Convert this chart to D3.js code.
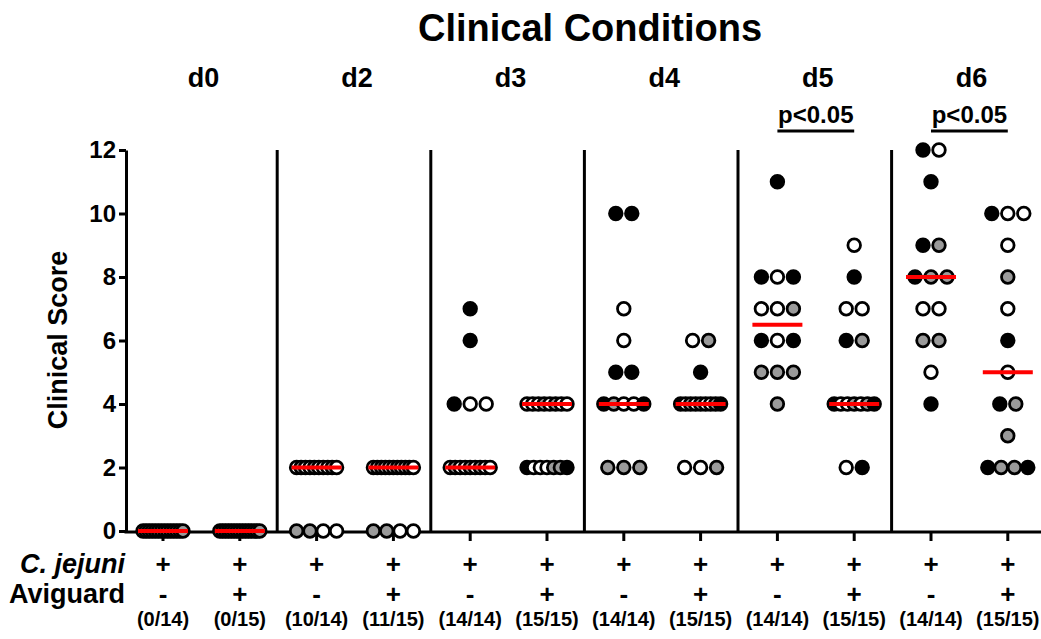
<!DOCTYPE html>
<html>
<head>
<meta charset="utf-8">
<script src="https://cdn.jsdelivr.net/npm/d3@7"></script>
<style>
body { margin: 0; background: #fff; }
svg { display: block; font-family: "Liberation Sans", Arial, sans-serif; font-weight: bold; }
</style>
</head>
<body>
<svg id="chart" width="1041" height="639"></svg>
<script>
// groups: each day has an Aviguard - and + group, all infected with C. jejuni
const days = ["d0", "d2", "d3", "d4", "d5", "d6"];
const jejuni = ["+", "+"];
const aviguard = ["-", "+"];
const y_ticks = [0, 2, 4, 6, 8, 10, 12];

// scores per group: [score, fills], one letter per bird (k black, w white, g gray)
const d0_minus = [[0, "wwwwgwwgwggwgg"]];
const d0_plus  = [[0, "wwwgwwgwwggwgwg"]];
const d2_minus = [[2, "wgwwgwwwgw"], [0, "ggww"]];
const d2_plus  = [[2, "wwgwwwgwwgw"], [0, "ggww"]];
const d3_minus = [[7, "k"], [6, "k"], [4, "kww"], [2, "wgwwgwgww"]];
const d3_plus  = [[4, "wwwgwgww"], [2, "kwwwggk"]];
const d4_minus = [[10, "kk"], [7, "w"], [6, "w"], [5, "kk"], [4, "kgwwk"], [2, "ggg"]];
const d4_plus  = [[6, "wg"], [5, "k"], [4, "kwgwgwwgk"], [2, "wwg"]];
const d5_minus = [[11, "k"], [8, "kwk"], [7, "wwg"], [6, "kwk"], [5, "ggg"], [4, "g"]];
const d5_plus  = [[9, "w"], [8, "k"], [7, "ww"], [6, "kg"], [4, "kwwgwgk"], [2, "wk"]];
const d6_minus = [[12, "kw"], [11, "k"], [9, "kg"], [8, "kgg"], [7, "ww"], [6, "gg"], [5, "w"], [4, "k"]];
const d6_plus  = [[10, "kww"], [9, "w"], [8, "g"], [7, "w"], [6, "k"], [5, "w"], [4, "kg"], [3, "g"], [2, "kggk"]];

const group_rows = [d0_minus, d0_plus, d2_minus, d2_plus, d3_minus, d3_plus,
                    d4_minus, d4_plus, d5_minus, d5_plus, d6_minus, d6_plus];
const significance = [["d5", "p<0.05"], ["d6", "p<0.05"]];

const fill_color = {k: "#000", w: "#fff", g: "#9a9a9a"};

// build groups
const groups = days.flatMap((day, i) => aviguard.map((a, j) => {
    const rows = group_rows[i * 2 + j];
    const points = rows.flatMap(([v, fills]) => {
        const n = fills.length;
        const s = n > 1 ? Math.min(16, 40 / (n - 1)) : 0;
        return fills.split("").map((f, k) => ({v, f, dx: (k - (n - 1) / 2) * s}));
    });
    return {id: day + a, day, jejuni: jejuni[j], aviguard: a, points};
}));

const svg = d3.select("#chart");

// scales
const x = d3.scaleBand()
    .domain(groups.map(g => g.id))
    .range([124.6, 1046.2]);
const xc = id => x(id) + x.bandwidth() / 2;

const y = d3.scaleLinear()
    .domain([0, 12])
    .range([531, 150]);

// title
svg.append("text")
    .attr("x", 590).attr("y", 41)
    .attr("text-anchor", "middle")
    .style("font-size", "38px")
    .text("Clinical Conditions");

// day labels
svg.append("g").selectAll("text")
    .data(days).enter()
    .append("text")
    .attr("x", d => (xc(d + "-") + xc(d + "+")) / 2 + 2)
    .attr("y", 87)
    .attr("text-anchor", "middle")
    .style("font-size", "27px")
    .text(d => d);

// separators between days
svg.append("g").selectAll("line")
    .data(days.slice(1)).enter()
    .append("line")
    .attr("x1", d => x(d + "-") - 1)
    .attr("x2", d => x(d + "-") - 1)
    .attr("y1", y(12))
    .attr("y2", y(0))
    .style("stroke", "#000")
    .style("stroke-width", 3);

// significance brackets
const sig = svg.append("g").selectAll("g")
    .data(significance).enter()
    .append("g");
sig.append("line")
    .attr("x1", d => xc(d[0] + "-"))
    .attr("x2", d => xc(d[0] + "+"))
    .attr("y1", 131).attr("y2", 131)
    .style("stroke", "#000")
    .style("stroke-width", 3);
sig.append("text")
    .attr("x", d => (xc(d[0] + "-") + xc(d[0] + "+")) / 2)
    .attr("y", 123)
    .attr("text-anchor", "middle")
    .style("font-size", "24px")
    .text(d => d[1]);

// axis_y
const axis_y = svg.append("g")
    .attr("transform", "translate(126,0)")
    .call(d3.axisLeft(y).tickValues(y_ticks).tickSize(7).tickSizeOuter(0).tickPadding(3));
axis_y.select(".domain").style("stroke-width", 3);
axis_y.selectAll(".tick line").style("stroke-width", 3);
axis_y.selectAll(".tick text")
    .style("font-size", "24px")
    .style("font-family", "Liberation Sans, Arial, sans-serif")
    .style("font-weight", "bold");

svg.append("text")
    .attr("transform", "translate(58,340) rotate(-90)")
    .attr("text-anchor", "middle")
    .attr("dominant-baseline", "central")
    .style("font-size", "27px")
    .text("Clinical Score");

// axis_x
const axis_x = svg.append("g")
    .attr("transform", "translate(0,532)")
    .call(d3.axisBottom(x).tickSize(9).tickFormat(""));
axis_x.select(".domain").remove();
axis_x.selectAll(".tick line").style("stroke-width", 3);
svg.append("line")
    .attr("x1", 124.5).attr("x2", 1041)
    .attr("y1", 532).attr("y2", 532)
    .style("stroke", "#000")
    .style("stroke-width", 3);

// points
svg.append("g").selectAll("g")
    .data(groups).enter()
    .append("g")
    .attr("transform", g => `translate(${xc(g.id)},0)`)
    .selectAll("circle")
    .data(g => g.points).enter()
    .append("circle")
    .attr("cx", d => d.dx)
    .attr("cy", d => y(d.v))
    .attr("r", 6.3)
    .style("fill", d => fill_color[d.f])
    .style("stroke", "#000")
    .style("stroke-width", 2.8);

// medians
svg.append("g").selectAll("line")
    .data(groups).enter()
    .append("line")
    .attr("x1", g => xc(g.id) - 25)
    .attr("x2", g => xc(g.id) + 25)
    .attr("y1", g => y(d3.median(g.points, p => p.v)))
    .attr("y2", g => y(d3.median(g.points, p => p.v)))
    .style("stroke", "#f00")
    .style("stroke-width", 4);

// condition rows under the axis
const rows = [["C. jejuni", "jejuni", 573, "italic"], ["Aviguard", "aviguard", 603, "normal"]];
rows.forEach(([label, key, yy, style]) => {
    svg.append("text")
        .attr("x", 125).attr("y", yy)
        .attr("text-anchor", "end")
        .style("font-size", "27px")
        .style("font-style", style)
        .text(label);
    svg.append("g").selectAll("text")
        .data(groups).enter()
        .append("text")
        .attr("x", g => xc(g.id))
        .attr("y", yy)
        .attr("text-anchor", "middle")
        .style("font-size", "26px")
        .text(g => g[key]);
});

// fraction of birds with a score above 0
svg.append("g").selectAll("text")
    .data(groups).enter()
    .append("text")
    .attr("x", g => xc(g.id))
    .attr("y", 626)
    .attr("text-anchor", "middle")
    .style("font-size", "20px")
    .text(g => `(${g.points.filter(p => p.v > 0).length}/${g.points.length})`);
</script>
</body>
</html>
